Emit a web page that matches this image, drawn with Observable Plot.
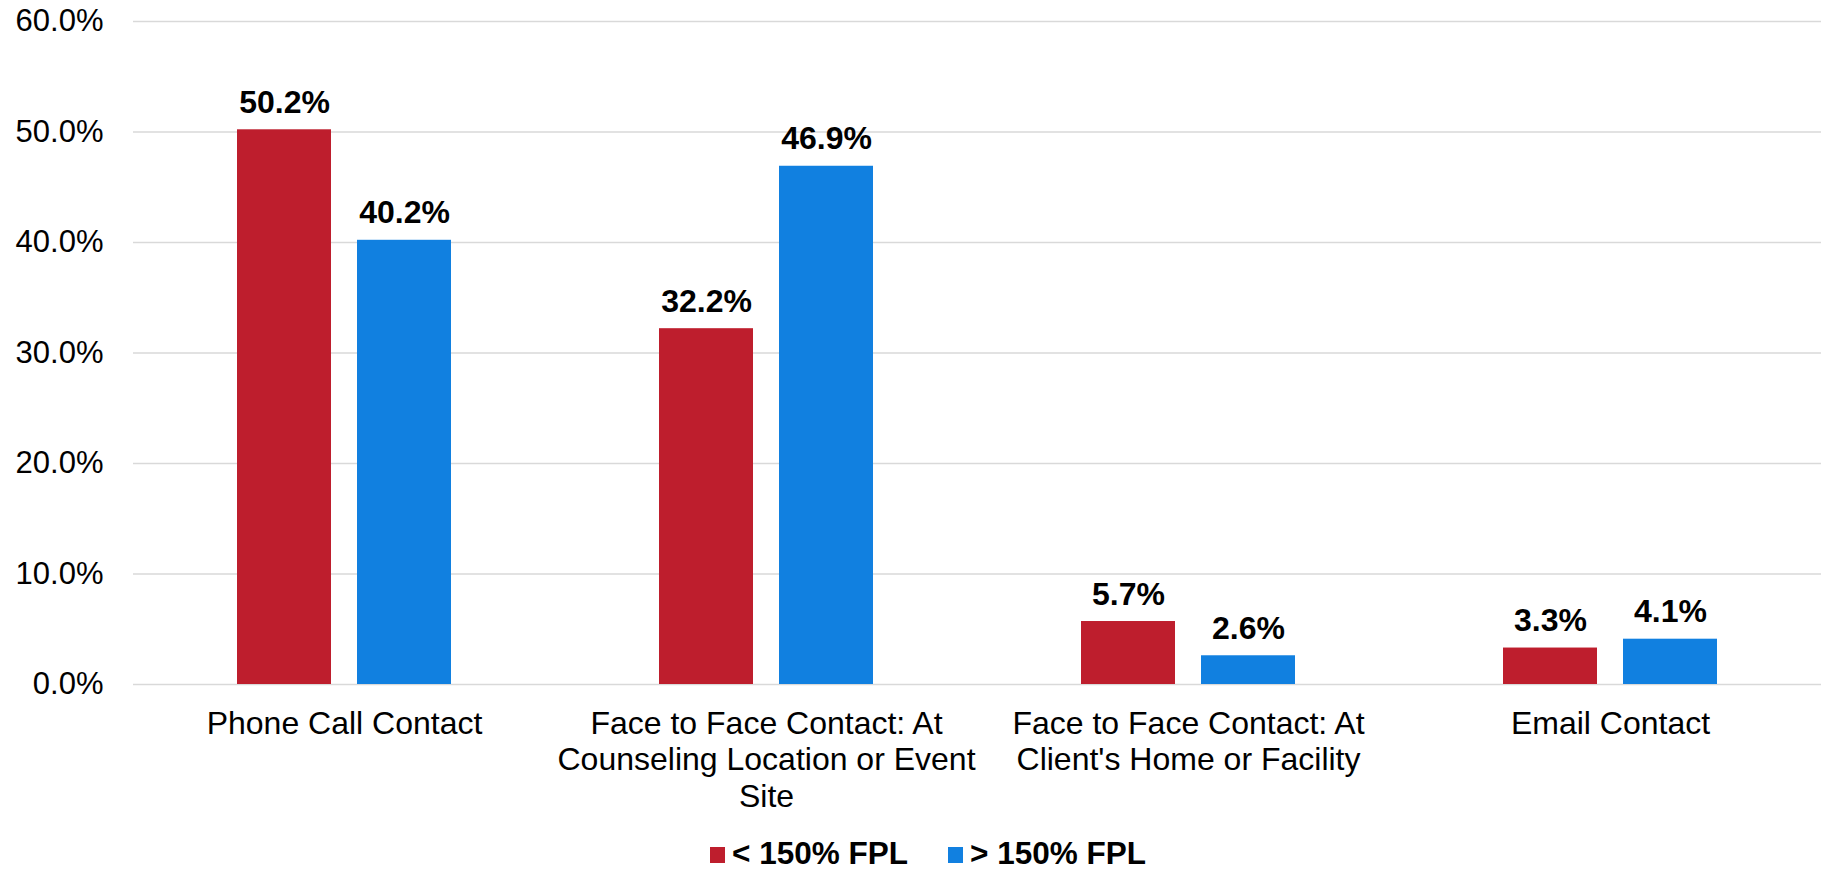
<!DOCTYPE html>
<html>
<head>
<meta charset="utf-8">
<script src="https://cdn.jsdelivr.net/npm/d3@7"></script>
<script src="https://cdn.jsdelivr.net/npm/@observablehq/plot@0.6"></script>
<style>
  html, body { margin: 0; padding: 0; background: #fff; }
  body { width: 1826px; font-family: "Liberation Sans", Arial, sans-serif; }
  #chart svg { display: block; }
  #legend { display: flex; justify-content: center; align-items: center; margin-top: 8px; height: 31.5px; line-height: 31.5px;
    font-family: "Liberation Sans", Arial, sans-serif; font-size: 31.5px; font-weight: bold; color: #000; padding-left: 30px; }
  .item { display: flex; align-items: center; margin: 0 20px; }
  .sw { width: 15px; height: 16px; margin-right: 7px; position: relative; top: 1px; }
</style>
</head>
<body>
<div id="chart"></div>
<div id="legend"></div>
<script>
const categories = [
  "Phone Call Contact",
  "Face to Face Contact: At Counseling Location or Event Site",
  "Face to Face Contact: At Client's Home or Facility",
  "Email Contact"
];
const categoryLabels = [
  "Phone Call Contact",
  "Face to Face Contact: At\nCounseling Location or Event\nSite",
  "Face to Face Contact: At\nClient's Home or Facility",
  "Email Contact"
];
const seriesNames = ["< 150% FPL", "> 150% FPL"];
const seriesColors = ["#BE1E2D", "#1180E0"];
const below150 = [50.2, 32.2, 5.7, 3.3];
const above150 = [40.2, 46.9, 2.6, 4.1];
const yTicks = [0, 10, 20, 30, 40, 50, 60];

const rows = [];
categories.forEach((c, i) => {
  rows.push({category: c, series: seriesNames[0], value: below150[i]});
  rows.push({category: c, series: seriesNames[1], value: above150[i]});
});
const labelOf = new Map(categories.map((c, i) => [c, categoryLabels[i]]));

const font = "'Liberation Sans', Arial, sans-serif";
const chart = Plot.plot({
  width: 1826,
  height: 830,
  marginTop: 21,
  marginLeft: 132,
  marginRight: 4,
  marginBottom: 146,
  style: {fontFamily: font, fontSize: "31px", color: "#000", background: "#fff"},
  fx: {domain: categories, padding: 0, label: null, axis: null},
  x: {domain: seriesNames, paddingInner: 0.215, paddingOuter: 0.854, axis: null},
  y: {domain: [0, 60], label: null, axis: null},
  color: {domain: seriesNames, range: seriesColors},
  marks: [
    Plot.ruleY(yTicks, {stroke: "#d9d9d9", strokeWidth: 1.6}),
    Plot.axisY({ticks: yTicks, tickSize: 0, tickPadding: 30, label: null,
      tickFormat: d => d.toFixed(1) + "%", fontSize: 31}),
    Plot.axisFx({anchor: "bottom", tickSize: 0, tickPadding: 23, label: null, lineHeight: 1.15,
      tickFormat: d => labelOf.get(d), fontSize: 32}),
    Plot.barY(rows, {fx: "category", x: "series", y: "value", fill: "series"}),
    Plot.text(rows, {fx: "category", x: "series", y: "value",
      text: d => d.value.toFixed(1) + "%", lineAnchor: "bottom", dy: -17,
      fontWeight: "bold", fontSize: 32, fill: "#000"})
  ]
});
document.getElementById("chart").appendChild(chart);

const legend = document.getElementById("legend");
seriesNames.forEach((s, i) => {
  const item = document.createElement("div");
  item.className = "item";
  const sw = document.createElement("span");
  sw.className = "sw";
  sw.style.background = seriesColors[i];
  const t = document.createElement("span");
  t.textContent = s;
  item.appendChild(sw);
  item.appendChild(t);
  legend.appendChild(item);
});
</script>
</body>
</html>
